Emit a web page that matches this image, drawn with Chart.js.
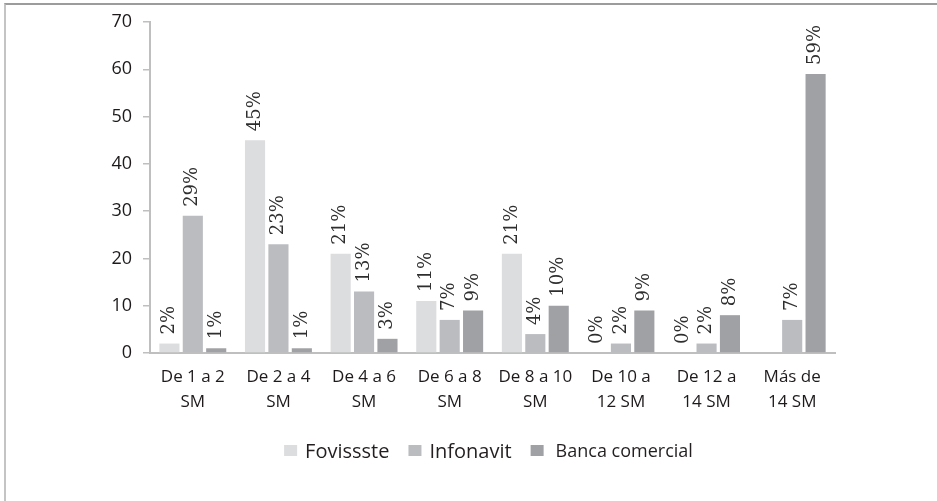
<!DOCTYPE html>
<html>
<head>
<meta charset="utf-8">
<script src="https://cdn.jsdelivr.net/npm/chart.js@4/dist/chart.umd.min.js"></script>
<style>
  body { margin: 0; background: #fff; }
  #marco { position: absolute; left: 4px; top: 3px; width: 1000px; height: 1000px;
           border-top: 2px solid #9c9c9c; border-left: 2px solid #c4c4c4; }
  #caja { position: absolute; left: 0; top: 0; width: 937px; height: 501px; }
</style>
</head>
<body>
<div id="marco"></div>
<div id="caja"><canvas id="myChart"></canvas></div>
<script>
var rangos = [['De 1 a 2','SM'],['De 2 a 4','SM'],['De 4 a 6','SM'],['De 6 a 8','SM'],
              ['De 8 a 10','SM'],['De 10 a','12 SM'],['De 12 a','14 SM'],['Más de','14 SM']];
var fovissste = [2, 45, 21, 11, 21, 0, 0, null];
var infonavit = [29, 23, 13, 7, 4, 2, 2, 7];
var banca = [1, 1, 3, 9, 10, 9, 8, 59];
var nombres = ['Fovissste','Infonavit','Banca comercial'];
var colores = ['#dcdddf','#bbbcc0','#a0a1a5'];
var ticksY = [0, 10, 20, 30, 40, 50, 60, 70];

var fuente = "'Open Sans', sans-serif";

// etiquetas giradas encima de cada barra
var etiquetas = {
  id: 'etiquetas',
  afterDatasetsDraw: function(chart) {
    var ctx = chart.ctx;
    ctx.save();
    ctx.font = "18px 'DejaVu Serif', serif";
    ctx.fillStyle = '#2e2e2e';
    ctx.textAlign = 'left';
    ctx.textBaseline = 'middle';
    chart.data.datasets.forEach(function(ds, i) {
      var meta = chart.getDatasetMeta(i);
      meta.data.forEach(function(bar, j) {
        if (ds.data[j] === null) return;
        ctx.save();
        ctx.translate(bar.x, bar.y - 9);
        ctx.rotate(-Math.PI / 2);
        ctx.fillText(ds.data[j] + '%', 0, 0);
        ctx.restore();
      });
    });
    ctx.restore();
  }
};

// leyenda dibujada a mano (cada texto con su tamaño)
var leyenda = {
  id: 'leyenda',
  afterDraw: function(chart) {
    var ctx = chart.ctx;
    var tam = [20, 20, 18];
    var y = 451;
    var anchos = [];
    var total = 0;
    ctx.save();
    for (var i = 0; i < nombres.length; i++) {
      ctx.font = tam[i] + 'px ' + fuente;
      anchos[i] = ctx.measureText(nombres[i]).width;
      total += 13 + 8 + anchos[i];
      if (i < nombres.length - 1) total += 19;
    }
    var x = (chart.chartArea.left + chart.chartArea.right) / 2 - 6 - total / 2;
    ctx.textBaseline = 'middle';
    ctx.textAlign = 'left';
    for (var i = 0; i < nombres.length; i++) {
      ctx.fillStyle = colores[i];
      ctx.fillRect(x, y - 6, 13, 11);
      x += 13 + (i == 2 ? 12 : 8);
      ctx.font = tam[i] + 'px ' + fuente;
      ctx.fillStyle = '#231f20';
      ctx.fillText(nombres[i], x, y + 1);
      x += anchos[i] + 19;
    }
    ctx.restore();
  }
};

var datos = {
  labels: rangos,
  datasets: [
    { label: nombres[0], data: fovissste, backgroundColor: colores[0] },
    { label: nombres[1], data: infonavit, backgroundColor: colores[1] },
    { label: nombres[2], data: banca, backgroundColor: colores[2] }
  ]
};

var opciones = {
  responsive: true,
  maintainAspectRatio: false,
  animation: false,
  layout: { padding: { left: 0, top: 22, right: 102, bottom: 0 } },
  datasets: { bar: { categoryPercentage: 0.82, barPercentage: 0.86 } },
  plugins: {
    legend: { display: false },
    tooltip: { enabled: false }
  },
  scales: {
    x: {
      grid: { display: false },
      border: { color: '#bfbfbf', width: 2 },
      ticks: { color: '#1e1a1b', font: { family: fuente, size: 17, lineHeight: 1.45 }, padding: 4, maxRotation: 0, autoSkip: false },
      afterFit: function(s) { s.height = 148; }
    },
    y: {
      min: 0,
      max: 70,
      afterBuildTicks: function(s) { s.ticks = ticksY.map(function(v) { return { value: v }; }); },
      grid: { drawOnChartArea: false, drawTicks: true, tickLength: 7, color: '#bfbfbf', lineWidth: 1.5 },
      border: { color: '#bfbfbf', width: 2 },
      ticks: { color: '#1e1a1b', font: { family: fuente, size: 18 }, padding: 11 },
      afterFit: function(s) { s.width = 150; }
    }
  }
};

var config = {
  type: 'bar',
  data: datos,
  options: opciones,
  plugins: [etiquetas, leyenda]
};

var myChart = new Chart(document.getElementById('myChart'), config);
</script>
</body>
</html>
